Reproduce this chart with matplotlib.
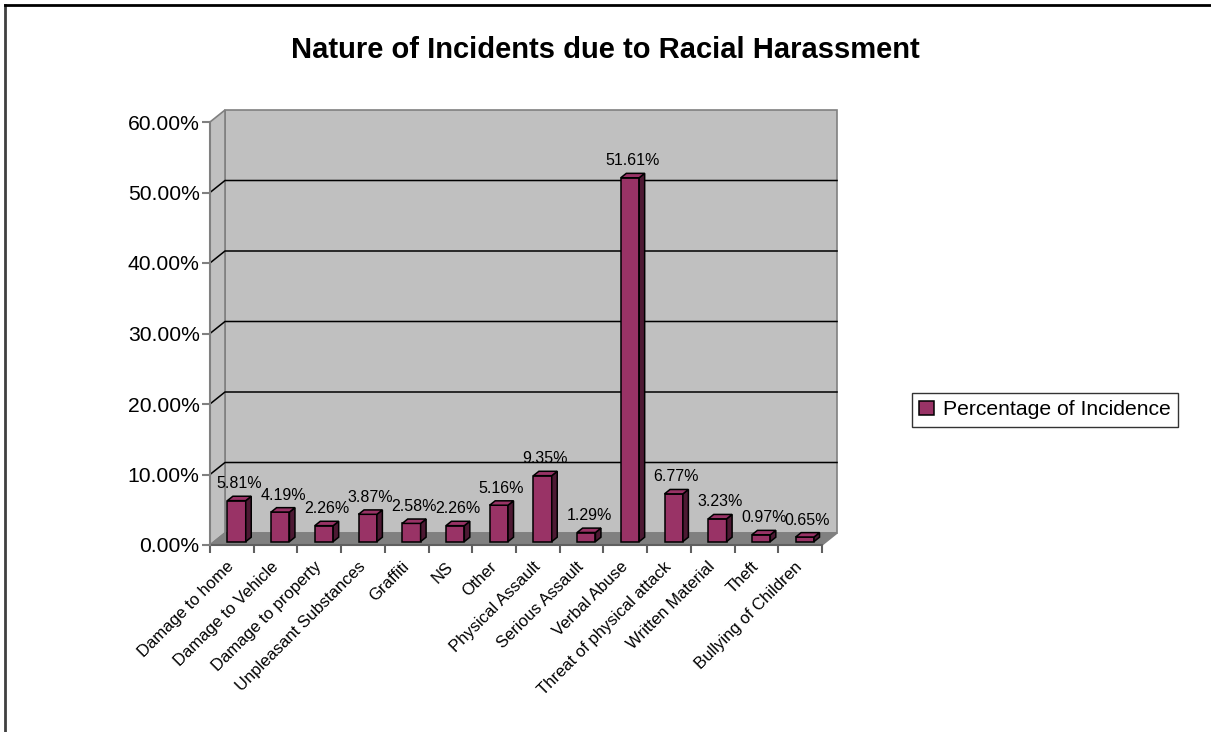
import numpy as np
import matplotlib
matplotlib.use("Agg")
import matplotlib.pyplot as plt
from matplotlib.patches import Polygon, Patch
from matplotlib.lines import Line2D
from matplotlib.ticker import PercentFormatter

plt.rcParams['font.family'] = ['Liberation Sans', 'DejaVu Sans']

title = "Nature of Incidents due to Racial Harassment"
categories = ["Damage to home", "Damage to Vehicle", "Damage to property",
              "Unpleasant Substances", "Graffiti", "NS", "Other",
              "Physical Assault", "Serious Assault", "Verbal Abuse",
              "Threat of physical attack", "Written Material", "Theft",
              "Bullying of Children"]
values = [0.0581, 0.0419, 0.0226, 0.0387, 0.0258, 0.0226, 0.0516,
          0.0935, 0.0129, 0.5161, 0.0677, 0.0323, 0.0097, 0.0065]
series_name = "Percentage of Incidence"
y_ticks = [0.0, 0.1, 0.2, 0.3, 0.4, 0.5, 0.6]

W, H = 1211, 732
fig = plt.figure(figsize=(W / 100, H / 100), dpi=100)
fig.patch.set_facecolor('white')

# plot front plane
L, R, T, B = 210, 822, 122, 545
ax = fig.add_axes([L / W, (H - B) / H, (R - L) / W, (B - T) / H])
n = len(categories)
ax.set_xlim(-0.5, n - 0.5)
ax.set_ylim(0, 0.6)
ax.patch.set_visible(False)

pxx = (R - L) / n          # pixels per category
pxy = (B - T) / 0.6        # pixels per unit value
def dx(p): return p / pxx
def dy(p): return p / pxy

# depth geometry (pixels)
DX, DY = 15, 12
wall_c = '#C0C0C0'
floor_c = '#808080'
edge_c = '#808080'
x0, x1 = -0.5, n - 0.5

# back wall
ax.add_patch(Polygon([(x0 + dx(DX), dy(DY)), (x1 + dx(DX), dy(DY)),
                      (x1 + dx(DX), 0.6 + dy(DY)), (x0 + dx(DX), 0.6 + dy(DY))],
                     closed=True, facecolor=wall_c, edgecolor=edge_c, lw=1.2,
                     clip_on=False, zorder=0))
# side wall
ax.add_patch(Polygon([(x0, 0), (x0 + dx(DX), dy(DY)), (x0 + dx(DX), 0.6 + dy(DY)),
                      (x0, 0.6)], closed=True, facecolor=wall_c, edgecolor=edge_c,
                     lw=1.2, clip_on=False, zorder=0))
# floor
ax.add_patch(Polygon([(x0, 0), (x1, 0), (x1 + dx(DX), dy(DY)), (x0 + dx(DX), dy(DY))],
                     closed=True, facecolor=floor_c, edgecolor=edge_c, lw=1.2,
                     clip_on=False, zorder=1))
# gridlines
for g in y_ticks[1:-1]:
    ax.add_line(Line2D([x0, x0 + dx(DX), x1 + dx(DX)], [g, g + dy(DY), g + dy(DY)],
                       color='black', lw=1.1, clip_on=False, zorder=1))

# bars
FX, FY = 4.7, 3.4      # front face offset
BDX, BDY = 5.5, 4.4    # bar depth
bw = 0.42
front_c = '#993366'
side_c = '#4D1933'
top_c = '#993366'
xs = np.arange(n)
ax.bar(xs + dx(FX), values, width=bw, bottom=dy(FY), color=front_c,
       edgecolor='black', lw=1.1, zorder=3, clip_on=False)
for i, v in enumerate(values):
    xl = i + dx(FX) - bw / 2
    xr = i + dx(FX) + bw / 2
    yb = dy(FY)
    yt = v + dy(FY)
    ax.add_patch(Polygon([(xr, yb), (xr + dx(BDX), yb + dy(BDY)),
                          (xr + dx(BDX), yt + dy(BDY)), (xr, yt)], closed=True,
                         facecolor=side_c, edgecolor='black', lw=1.1,
                         zorder=3, clip_on=False))
    ax.add_patch(Polygon([(xl, yt), (xr, yt), (xr + dx(BDX), yt + dy(BDY)),
                          (xl + dx(BDX), yt + dy(BDY))], closed=True,
                         facecolor=top_c, edgecolor='black', lw=1.1,
                         zorder=3, clip_on=False))
    ax.annotate(f"{v * 100:.2f}%", xy=(i + dx(FX) + dx(BDX) / 2, yt + dy(BDY)),
                xytext=(0, 5), textcoords='offset pixels', ha='center',
                va='bottom', fontsize=11.5, color='black', zorder=4,
                annotation_clip=False)

# axes styling
for s in ['top', 'right']:
    ax.spines[s].set_visible(False)
ax.spines['left'].set_color('#808080')
ax.spines['left'].set_linewidth(1.5)
ax.spines['bottom'].set_color('#606060')
ax.spines['bottom'].set_linewidth(1.5)
ax.spines['left'].set_zorder(5)
ax.set_yticks(y_ticks)
ax.yaxis.set_major_formatter(PercentFormatter(xmax=1, decimals=2))
ax.tick_params(axis='y', length=6, width=1.5, color='#808080', pad=1.5,
               labelsize=15.2)
ax.set_xticks(xs)
ax.set_xticklabels(categories, rotation=45, ha='right', va='center',
                   rotation_mode='anchor', fontsize=12)
ax.tick_params(axis='x', which='major', length=0, pad=14)
ax.set_xticks(np.arange(-0.5, n, 1), minor=True)
ax.tick_params(axis='x', which='minor', length=6, width=1.5, color='#606060')

# title
fig.text(605 / W, 1 - 50 / H, title, ha='center', va='center',
         fontsize=21, fontweight='bold')

# legend
leg = fig.legend(handles=[Patch(facecolor=front_c, edgecolor='black', lw=1.1)],
                 labels=[series_name], loc='center left',
                 bbox_to_anchor=(912 / W, 1 - 410 / H), frameon=True,
                 fancybox=False, edgecolor='black', fontsize=15.2,
                 handlelength=0.7, handleheight=0.7, handletextpad=0.4,
                 borderpad=0.35, borderaxespad=0)
leg.get_frame().set_linewidth(1.0)

# chart border (left and top visible)
fig.add_artist(Line2D([5 / W, 5 / W], [0, 1 - 5 / H], color='#404040', lw=2,
                      transform=fig.transFigure))
fig.add_artist(Line2D([5 / W, 1], [1 - 5 / H, 1 - 5 / H], color='black', lw=2,
                      transform=fig.transFigure))

fig.savefig('out.png', dpi=100)
